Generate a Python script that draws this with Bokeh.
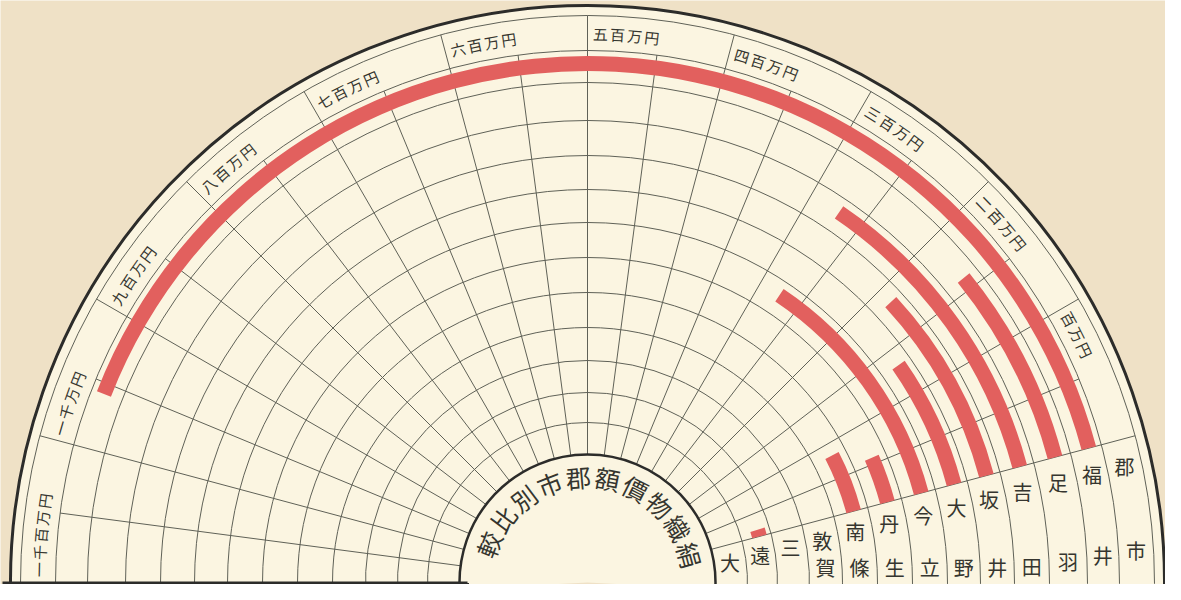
import numpy as np
from bokeh.plotting import figure
from bokeh.models import Range1d
from bokeh.core.properties import value
from bokeh.embed import file_html
from bokeh.resources import INLINE

# ---------------- data ----------------
header = "郡市"
districts = ["福井", "足羽", "吉田", "坂井", "大野", "今立", "丹生", "南條", "敦賀", "三方", "遠敷", "大飯"]
export_value = [9.58, 1.60, 2.72, 1.85, 1.33, 2.75, 0.58, 0.83, 0.0, 0.0, 0.15, 0.0]   # 百万円
tick_values = [1, 2, 3, 4, 5, 6, 7, 8, 9, 10, 11]
tick_labels = ["百万円", "二百万円", "三百万円", "四百万円", "五百万円", "六百万円",
               "七百万円", "八百万円", "九百万円", "一千万円", "一千百万円"]
title = "絹織物價額郡市別比較"

# ---------------- layout / style ----------------
W, H = 1165, 584
CX, CY = 595, 10                 # centre (data units, data y = 600 - page y)
R_IN = 128
ring_edges = [128, 160, 190, 222, 255, 290, 325, 360, 393, 427, 462, 500, 532]  # inner -> outer
R_BAND = 567
R_OUT = 577
A0 = 15.0        # angle (deg) of value 0
DEG_PER = 15.0   # degrees per 1 million yen
BG = "#efe1c6"
PAPER = "#fbf5e1"
INK = "#35352f"
GRID = "#5f6157"
RED = "#e2605e"
FONT = value("Noto Sans CJK JP")

def ang(v):
    return A0 + DEG_PER * v

def pol(r, deg):
    t = np.deg2rad(deg)
    return CX + r * np.cos(t), CY + r * np.sin(t)

p = figure(width=W, height=H, x_range=Range1d(8, 8 + W), y_range=Range1d(8, 8 + H),
           output_backend="svg", toolbar_location=None, min_border=0)
p.xaxis.visible = False
p.yaxis.visible = False
p.xgrid.visible = False
p.ygrid.visible = False
p.outline_line_color = None
p.background_fill_color = BG
p.border_fill_color = BG

# paper fill of the half disc
p.wedge(x=CX, y=CY, radius=R_OUT, start_angle=np.deg2rad(-3), end_angle=np.deg2rad(183),
        fill_color=PAPER, line_color=None)

# concentric ring lines
thin_r = ring_edges[1:] + [R_BAND]
p.arc(x=[CX] * len(thin_r), y=[CY] * len(thin_r), radius=thin_r,
      start_angle=np.deg2rad(-3), end_angle=np.deg2rad(183), line_color=GRID, line_width=1)

# radial grid lines every half million
x0s, y0s, x1s, y1s = [], [], [], []
n_half = int(round(2 * tick_values[-1]))
for k in range(n_half + 1):
    a = ang(k / 2)
    r_end = R_BAND if k % 2 == 0 else ring_edges[-1]
    xa, ya = pol(R_IN, a)
    xb, yb = pol(r_end, a)
    x0s.append(xa); y0s.append(ya); x1s.append(xb); y1s.append(yb)
p.segment(x0=x0s, y0=y0s, x1=x1s, y1=y1s, line_color=GRID, line_width=1)

# bars
n = len(districts)
bi, bo, bs, be = [], [], [], []
for i, v in enumerate(export_value):
    if v <= 0:
        continue
    r_lo, r_hi = ring_edges[n - 1 - i], ring_edges[n - i]
    rc = 0.5 * (r_lo + r_hi) + 3
    bi.append(rc - 7.5); bo.append(rc + 7.5)
    bs.append(np.deg2rad(ang(0))); be.append(np.deg2rad(ang(v)))
p.annular_wedge(x=[CX] * len(bi), y=[CY] * len(bi), inner_radius=bi, outer_radius=bo,
                start_angle=bs, end_angle=be, fill_color=RED, line_color=None)

# heavy outlines
p.arc(x=CX, y=CY, radius=R_OUT, start_angle=np.deg2rad(-3), end_angle=np.deg2rad(183),
      line_color="#2c2c2a", line_width=3)
p.arc(x=CX, y=CY, radius=R_IN, start_angle=np.deg2rad(-3), end_angle=np.deg2rad(183),
      line_color="#2c2c2a", line_width=2.5)
# top edge of the legend box (bottom left)
p.segment(x0=[10, 475], y0=[9.5, 9.5], x1=[475, 475], y1=[9.5, 0], line_color="#2c2c2a", line_width=3)

# tick labels along the outer band
tx, ty, tt, ta = [], [], [], []
r_lab = 0.5 * (ring_edges[-1] + R_BAND) - 0.5
for v, lab in zip(tick_values, tick_labels):
    a_div = ang(v)
    for j, ch in enumerate(lab):
        a = a_div - (1.35 + 1.8 * j)
        x, y = pol(r_lab, a)
        tx.append(x); ty.append(y); tt.append(ch); ta.append(np.deg2rad(a - 90))
p.text(x=tx, y=ty, text=tt, angle=ta, text_font=FONT, text_font_size="15px",
       text_align="center", text_baseline="middle", text_color=INK)

# district labels (vertical, upright) in the wedge below the zero line
cols = [(header, 0.5 * (ring_edges[-1] + R_BAND))]
for i, d in enumerate(districts):
    cols.append((d, 0.5 * (ring_edges[n - 1 - i] + ring_edges[n - i])))
lx, ly, lt = [], [], []
s0 = np.sin(np.deg2rad(A0))
for lab, rc in cols:
    y1 = 590 - rc * s0 + 14 + 0.022 * rc          # page y of first char
    y2 = y1 + 40 + 0.08 * rc                       # page y of second char
    ys = [y1]
    if y2 <= 608:                                   # below the sheet's visible edge otherwise
        ys.append(min(y2, 575))
    for ch, yp in zip(lab, ys):
        dy = 590 - yp
        xp = CX + np.sqrt(max(rc ** 2 - dy ** 2, 0))
        lx.append(xp); ly.append(600 - yp); lt.append(ch)
p.text(x=lx, y=ly, text=lt, text_font=FONT, text_font_size="20px",
       text_align="center", text_baseline="middle", text_color=INK)

# title inside the inner circle
hx, hy, ht, ha = [], [], [], []
for i, ch in enumerate(title):
    a = 15 + 16 * i
    x, y = pol(106, a)
    hx.append(x); hy.append(y); ht.append(ch); ha.append(np.deg2rad(a - 90))
p.text(x=hx, y=hy, text=ht, angle=ha, text_font=FONT, text_font_size="25px",
       text_align="center", text_baseline="middle", text_color=INK)

open("out.html", "w").write(file_html(p, INLINE))
